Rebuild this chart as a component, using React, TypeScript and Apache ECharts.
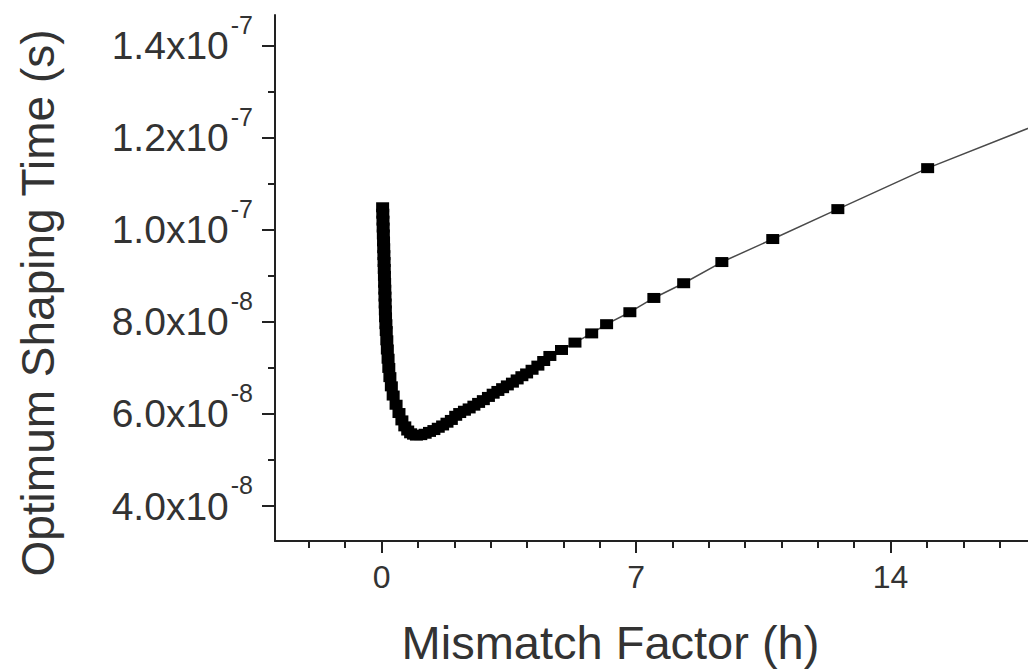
import React, { useEffect, useRef } from "react";
import * as echarts from "echarts";

// Mismatch factor h (x) and optimum shaping time in seconds (y)
const hValues = [
  0.03, 0.035, 0.04, 0.045, 0.05, 0.055, 0.06, 0.065, 0.07, 0.075, 0.08, 0.085, 0.09, 0.095,
  0.1, 0.105, 0.11, 0.12, 0.13, 0.145, 0.16, 0.18, 0.2, 0.23, 0.27, 0.32, 0.4, 0.48, 0.56,
  0.64, 0.72, 0.8, 0.88, 0.96, 1.08, 1.2, 1.32, 1.44, 1.56, 1.68, 1.8, 1.92, 2.04, 2.15,
  2.28, 2.41, 2.54, 2.67, 2.8, 2.94, 3.07, 3.2, 3.33, 3.46, 3.6, 3.73, 3.86, 3.99, 4.14,
  4.3, 4.46, 4.63, 4.95, 5.32, 5.78, 6.19, 6.83, 7.49, 8.31, 9.36, 10.76, 12.55, 15.02, 18.5,
];
const tValues = [
  1.049e-7, 1.035e-7, 1.02e-7, 1.005e-7, 9.9e-8, 9.75e-8, 9.6e-8, 9.45e-8, 9.3e-8, 9.15e-8,
  9.0e-8, 8.85e-8, 8.7e-8, 8.55e-8, 8.4e-8, 8.25e-8, 8.1e-8, 7.95e-8, 7.8e-8, 7.6e-8, 7.4e-8,
  7.2e-8, 7.0e-8, 6.8e-8, 6.6e-8, 6.4e-8, 6.2e-8, 6.02e-8, 5.86e-8, 5.73e-8, 5.64e-8,
  5.58e-8, 5.55e-8, 5.53e-8, 5.54e-8, 5.57e-8, 5.61e-8, 5.65e-8, 5.7e-8, 5.75e-8, 5.81e-8,
  5.87e-8, 5.96e-8, 6.02e-8, 6.07e-8, 6.12e-8, 6.18e-8, 6.24e-8, 6.3e-8, 6.37e-8, 6.44e-8,
  6.5e-8, 6.56e-8, 6.62e-8, 6.68e-8, 6.75e-8, 6.82e-8, 6.88e-8, 6.96e-8, 7.05e-8, 7.15e-8,
  7.26e-8, 7.39e-8, 7.55e-8, 7.75e-8, 7.95e-8, 8.21e-8, 8.52e-8, 8.84e-8, 9.3e-8, 9.8e-8,
  1.045e-7, 1.134e-7, 1.243e-7,
];

// Axis ticks and labels
const xMajorTicks = [0, 7, 14];
const xMinorTicks = [-2, -1, 1, 2, 3, 4, 5, 6, 8, 9, 10, 11, 12, 13, 15, 16, 17];
const yMajorTicks = [4e-8, 6e-8, 8e-8, 1.0e-7, 1.2e-7, 1.4e-7];
const yMinorTicks = [5e-8, 7e-8, 9e-8, 1.1e-7, 1.3e-7];
const yTickMantissas = ["4.0", "6.0", "8.0", "1.0", "1.2", "1.4"];
const yTickExponents = ["-8", "-8", "-8", "-7", "-7", "-7"];

const X_MIN = -2.93;
const X_MAX = 17.78;
const Y_MIN = 3.24e-8;
const Y_MAX = 1.4667e-7;

const FONT = "'Liberation Sans', Arial, sans-serif";
const TEXT_COLOR = "#333333";

export default function App() {
  const ref = useRef<HTMLDivElement>(null);

  useEffect(() => {
    if (!ref.current) return;
    const chart = echarts.init(ref.current, null, { renderer: "svg" });

    const yLabel = (v: number) => {
      const idx = yMajorTicks.findIndex((t) => Math.abs(t - v) < 1e-10);
      if (idx < 0) return "";
      return `{m|${yTickMantissas[idx]}x10}{e|${yTickExponents[idx]}}`;
    };

    chart.setOption({
      animation: false,
      backgroundColor: "#ffffff",
      grid: { left: 275, right: 0, top: 15, bottom: 130, containLabel: false },
      xAxis: [
        {
          type: "value",
          position: "bottom",
          min: X_MIN,
          max: X_MAX,
          name: "Mismatch Factor (h)",
          nameLocation: "middle",
          nameGap: 78,
          nameTextStyle: {
            fontFamily: FONT,
            fontSize: 47,
            color: TEXT_COLOR,
            padding: [0, 82, 0, 0],
          },
          axisLine: { show: true, onZero: false, lineStyle: { color: "#222", width: 2 } },
          axisTick: {
            show: true,
            customValues: xMajorTicks,
            length: 12,
            lineStyle: { color: "#222", width: 2 },
          },
          axisLabel: {
            show: true,
            customValues: xMajorTicks,
            margin: 20,
            fontFamily: FONT,
            fontSize: 32,
            color: TEXT_COLOR,
            formatter: (v: number) => String(Math.round(v)),
          },
          splitLine: { show: false },
        },
        {
          type: "value",
          position: "bottom",
          min: X_MIN,
          max: X_MAX,
          axisLine: { show: false, onZero: false },
          axisTick: {
            show: true,
            customValues: xMinorTicks,
            length: 7,
            lineStyle: { color: "#222", width: 2 },
          },
          axisLabel: { show: false },
          splitLine: { show: false },
        },
      ],
      yAxis: [
        {
          type: "value",
          position: "left",
          min: Y_MIN,
          max: Y_MAX,
          name: "Optimum Shaping Time (s)",
          nameLocation: "middle",
          nameGap: 214,
          nameRotate: 90,
          nameTextStyle: {
            fontFamily: FONT,
            fontSize: 46,
            color: TEXT_COLOR,
            padding: [0, 50, 0, 0],
          },
          axisLine: { show: true, onZero: false, lineStyle: { color: "#222", width: 2 } },
          axisTick: {
            show: true,
            customValues: yMajorTicks,
            length: 13,
            lineStyle: { color: "#222", width: 2 },
          },
          axisLabel: {
            show: true,
            customValues: yMajorTicks,
            margin: 22,
            formatter: yLabel,
            rich: {
              m: { fontFamily: FONT, fontSize: 39, color: TEXT_COLOR },
              e: {
                fontFamily: FONT,
                fontSize: 25,
                color: TEXT_COLOR,
                padding: [0, 0, 42, 2],
              },
            },
          },
          splitLine: { show: false },
        },
        {
          type: "value",
          position: "left",
          min: Y_MIN,
          max: Y_MAX,
          axisLine: { show: false, onZero: false },
          axisTick: {
            show: true,
            customValues: yMinorTicks,
            length: 7,
            lineStyle: { color: "#222", width: 2 },
          },
          axisLabel: { show: false },
          splitLine: { show: false },
        },
      ],
      series: [
        {
          type: "line",
          xAxisIndex: 0,
          yAxisIndex: 0,
          data: hValues.map((h, i) => [h, tValues[i]]),
          symbol: "rect",
          symbolSize: [13, 10],
          showSymbol: true,
          showAllSymbol: true,
          clip: true,
          itemStyle: { color: "#000000" },
          lineStyle: { color: "#4a4a4a", width: 1.5 },
        },
      ],
    });

    return () => chart.dispose();
  }, []);

  return (
    <div
      ref={ref}
      style={{ position: "fixed", left: 0, top: 0, width: 1028, height: 671, background: "#fff" }}
    />
  );
}
